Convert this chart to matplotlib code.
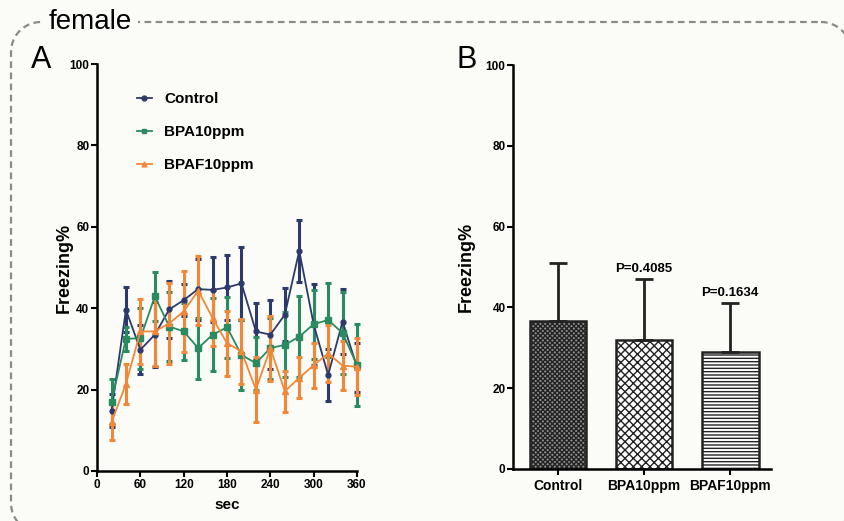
#!/usr/bin/env python3
"""
Freezing time course (A) and total freezing (B) for female mice
"""

import numpy as np
import matplotlib.pyplot as plt
from matplotlib.lines import Line2D

# Time course, 20 s bins
time_sec = [20, 40, 60, 80, 100, 120, 140, 160, 180, 200, 220, 240, 260, 280, 300, 320, 340, 360]

control_mean = [14.8, 39.6, 29.8, 33.5, 39.7, 42.0, 44.7, 44.5, 45.1, 46.1, 34.3, 33.5, 38.4, 54.1, 36.0, 23.6, 36.7, 25.5]
control_sem = [4.0, 5.5, 6.0, 8.0, 7.0, 4.0, 7.5, 8.0, 8.0, 9.0, 7.0, 8.5, 6.5, 7.7, 10.0, 6.5, 8.0, 6.0]

bpa_mean = [17.0, 32.5, 32.6, 42.9, 35.5, 34.3, 30.2, 33.5, 35.3, 28.5, 26.5, 30.2, 31.0, 33.0, 36.1, 37.1, 33.9, 26.0]
bpa_sem = [5.5, 3.0, 7.5, 6.0, 8.5, 7.0, 7.5, 9.0, 7.5, 8.5, 6.5, 7.5, 8.0, 10.0, 8.5, 9.2, 10.0, 10.0]

bpaf_mean = [12.0, 21.4, 34.3, 34.3, 36.3, 39.2, 44.3, 37.6, 31.4, 29.4, 20.0, 30.2, 19.6, 22.9, 26.0, 28.9, 25.9, 25.6]
bpaf_sem = [4.5, 5.0, 8.0, 8.5, 10.0, 10.0, 8.5, 7.0, 8.0, 8.0, 8.0, 8.0, 5.0, 5.0, 5.5, 7.0, 6.0, 7.0]

# Total freezing per group
groups = ['Control', 'BPA10ppm', 'BPAF10ppm']
total_mean = [36.7, 31.8, 29.0]
total_sd = [14.2, 15.2, 12.0]
p_values = [None, 'P=0.4085', 'P=0.1634']

NAVY = '#2c3a6b'
GREEN = '#2a8a60'
ORANGE = '#f0883a'
BG = '#fbfbf8'
W, H = 844, 521

plt.rcParams['font.family'] = ['Liberation Sans', 'DejaVu Sans']
plt.rcParams['font.weight'] = 'bold'
plt.rcParams['axes.linewidth'] = 1.8
plt.rcParams['xtick.major.width'] = 1.5
plt.rcParams['ytick.major.width'] = 1.5
plt.rcParams['xtick.major.size'] = 4
plt.rcParams['ytick.major.size'] = 4


def style_axis(ax):
    for side in ['top', 'right']:
        ax.spines[side].set_visible(False)
    ax.tick_params(labelsize=8.5, pad=1.5)
    for lab in ax.get_xticklabels() + ax.get_yticklabels():
        lab.set_fontweight('bold')


def rounded_frame_xy(x0, y0, x1, y1, r, n=20):
    """Outline of a rounded rectangle in pixel coords (y down), returned as figure fractions."""
    pts = []
    corners = [(x1 - r, y0 + r, -90, 0), (x1 - r, y1 - r, 0, 90),
               (x0 + r, y1 - r, 90, 180), (x0 + r, y0 + r, 180, 270)]
    for cx, cy, a0, a1 in corners:
        ang = np.radians(np.linspace(a0, a1, n))
        pts.extend(zip(cx + r * np.cos(ang), cy + r * np.sin(ang)))
    pts.append(pts[0])
    px = np.array(pts)
    return px[:, 0] / W, 1 - px[:, 1] / H


fig = plt.figure(figsize=(W / 100, H / 100), dpi=100)
fig.patch.set_facecolor(BG)

# dashed rounded frame around both panels
fx, fy = rounded_frame_xy(11, 22, 851, 533, 30)
fig.add_artist(Line2D(fx, fy, transform=fig.transFigure, color='#8a8a8a',
                      linewidth=1.6, linestyle=(0, (3, 2))))
fig.text(0.058, 0.957, 'female', fontsize=20, fontweight='normal', va='center', ha='left',
         bbox=dict(boxstyle='square,pad=0.2', facecolor=BG, edgecolor='none'))

# Panel A: freezing time course
ax1 = fig.add_axes([0.115, 0.096, 0.308, 0.781])
ax1.set_facecolor(BG)
series = [
    ('Control', control_mean, control_sem, NAVY, 'o', 3.5),
    ('BPA10ppm', bpa_mean, bpa_sem, GREEN, 's', 4),
    ('BPAF10ppm', bpaf_mean, bpaf_sem, ORANGE, '^', 4),
]
handles = []
for label, mean, sem, color, marker, ms in series:
    eb = ax1.errorbar(time_sec, mean, yerr=sem, color=color, marker=marker, markersize=ms,
                      linewidth=1.3, elinewidth=2.2, capsize=2.5, capthick=2.2)
    for art in eb.get_children():
        art.set_clip_on(False)
    handles.append(Line2D([], [], color=color, marker=marker, markersize=3.5,
                          linewidth=1.3, label=label))

ax1.set_xlim(0, 360)
ax1.set_ylim(0, 100)
ax1.set_xticks(range(0, 361, 60))
ax1.set_yticks(range(0, 101, 20))
ax1.set_xlabel('sec', fontsize=11, fontweight='bold', labelpad=5)
ax1.set_ylabel('Freezing%', fontsize=13, fontweight='bold', labelpad=-2)
style_axis(ax1)
ax1.legend(handles=handles, loc='upper left', bbox_to_anchor=(0.1, 0.965), frameon=False,
           handlelength=1.0, labelspacing=1.25, handletextpad=0.8,
           prop={'size': 11, 'weight': 'bold'})
fig.text(0.037, 0.885, 'A', fontsize=22, fontweight='normal', va='center')

# Panel B: total freezing
ax2 = fig.add_axes([0.608, 0.1, 0.305, 0.775])
ax2.set_facecolor(BG)
x = np.arange(len(groups))
faces = ['#8c8c8c', 'white', 'white']
hatches = ['xxxxxxx', 'xxxx', '-----']
ax2.bar(x, total_mean, width=0.66, color=faces, edgecolor='#222222',
        linewidth=1.8, hatch=hatches, zorder=2)
ax2.errorbar(x, total_mean, yerr=[np.zeros(len(x)), total_sd], fmt='none',
             ecolor='#222222', elinewidth=2, capsize=6.5, capthick=2, zorder=3)
for xi, top, p in zip(x, np.add(total_mean, total_sd), p_values):
    if p:
        ax2.text(xi, top + 1.0, p, ha='center', va='bottom', fontsize=9.5, fontweight='bold')

ax2.set_xlim(-0.52, 2.47)
ax2.set_ylim(0, 100)
ax2.set_xticks(x)
ax2.set_xticklabels(groups)
ax2.set_yticks(range(0, 101, 20))
ax2.set_ylabel('Freezing%', fontsize=13, fontweight='bold', labelpad=8)
style_axis(ax2)
ax2.tick_params(axis='x', labelsize=10, pad=3)
for lab in ax2.get_xticklabels():
    lab.set_fontweight('bold')
fig.text(0.541, 0.885, 'B', fontsize=22, fontweight='normal', va='center')

plt.savefig('out.png', dpi=100, facecolor=BG)
